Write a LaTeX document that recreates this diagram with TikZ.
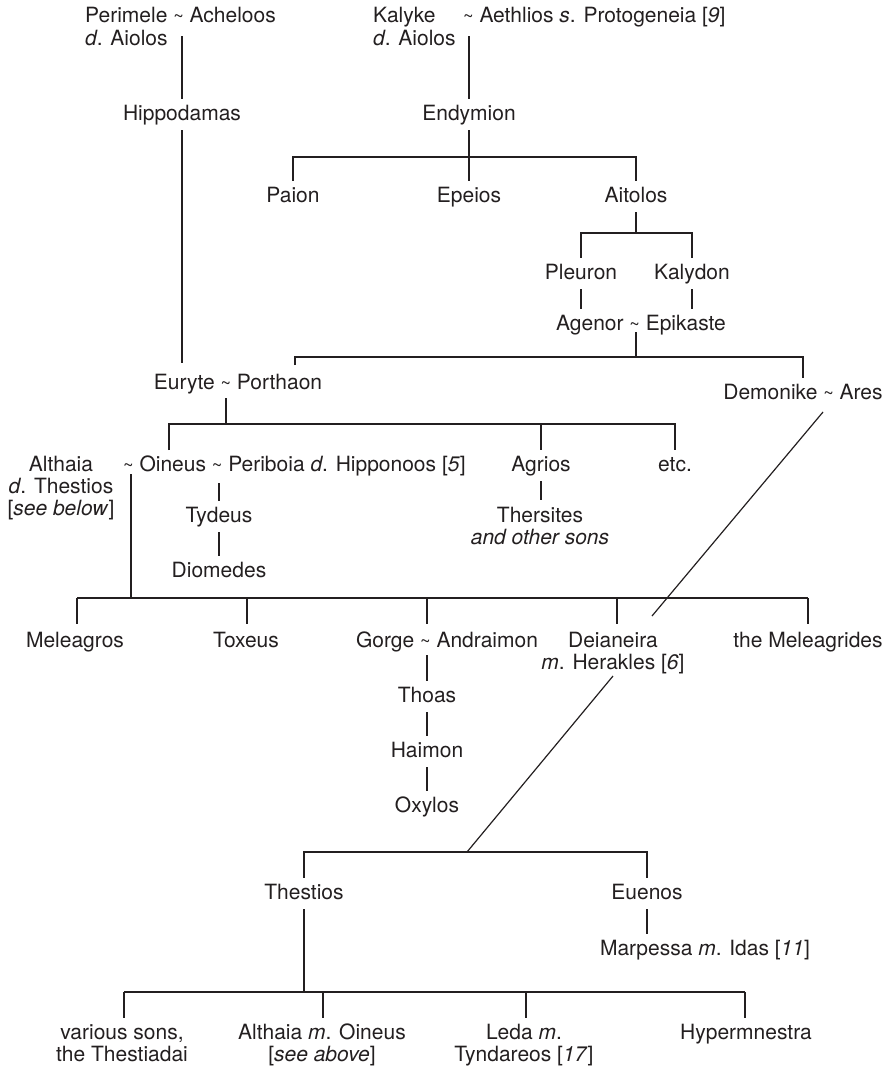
\documentclass[tikz,border=0pt]{standalone}
\usepackage{fontspec}
\setmainfont{TeX Gyre Heros}
\definecolor{ink}{HTML}{231F20}
\newcommand{\tld}{{\fontsize{18}{18}\selectfont\char"7E}}
\begin{document}
\begin{tikzpicture}[x=1pt,y=-1pt,
  every node/.style={font=\fontsize{21}{22}\selectfont, text=ink, inner sep=0pt},
  one/.style={text height=15pt, text depth=4pt, inner ysep=6pt, anchor=base},
  two/.style={align=center, anchor=base},
  ln/.style={draw=ink, line width=1.2pt}]
\useasboundingbox (0,0) rectangle (891,1068);

% ---- nodes (multi-line nodes are anchored at the baseline of their last line) ----
\node[two, align=left, anchor=base west] (peri) at (85,45) {Perimele \tld{} Acheloos\\\textit{d}. Aiolos};
\node[two, align=left, anchor=base west] (kalyke) at (373,45) {Kalyke\\\textit{d}. Aiolos};
\node[one, anchor=base west] (aeth) at (463,23) {\tld{} Aethlios \textit{s}. Protogeneia [\textit{9}]};
\node[one] (hippo) at (182,120) {Hippodamas};
\node[one] (endy) at (469,120) {Endymion};
\node[one] (paion) at (293,202) {Paion};
\node[one] (epeios) at (469,202) {Epeios};
\node[one] (aitolos) at (636,202) {Aitolos};
\node[one] (pleuron) at (581,279) {Pleuron};
\node[one] (kalydon) at (692,279) {Kalydon};
\node[one] (agenor) at (641,330) {Agenor \tld{} Epikaste};
\node[one] (euryte) at (238,389) {Euryte \tld{} Porthaon};
\node[one] (demonike) at (803,399) {Demonike \tld{} Ares};
\node[two] (althaia) at (61,515) {Althaia\\\textit{d}. Thestios\\{[}\textit{see below}]};
\node[one, anchor=base west] (oineus) at (123,471) {\tld{} Oineus \tld{} Periboia \textit{d}. Hipponoos [\textit{5}]};
\node[one] (agrios) at (541,471) {Agrios};
\node[one] (etc) at (675,471) {etc.};
\node[one] (tydeus) at (219,522) {Tydeus};
\node[one] (diomedes) at (219,577) {Diomedes};
\node[two] (thersites) at (540,544) {Thersites\\\textit{and other sons}};
\node[one] (meleagros) at (75,647) {Meleagros};
\node[one] (toxeus) at (246,647) {Toxeus};
\node[one] (gorge) at (447,647) {Gorge \tld{} Andraimon};
\node[two] (deianeira) at (613,669) {Deianeira\\\textit{m}. Herakles [\textit{6}]};
\node[one] (melides) at (808,647) {the Meleagrides};
\node[one] (thoas) at (427,702) {Thoas};
\node[one] (haimon) at (427,757) {Haimon};
\node[one] (oxylos) at (427,812) {Oxylos};
\node[one] (thestios) at (304,899) {Thestios};
\node[one] (euenos) at (647,899) {Euenos};
\node[one] (marpessa) at (705,955) {Marpessa \textit{m}. Idas [\textit{11}]};
\node[two] (various) at (122,1061) {various sons,\\the Thestiadai};
\node[two] (althaiab) at (322,1061) {Althaia \textit{m}. Oineus\\{[}\textit{see above}]};
\node[two] (leda) at (524,1061) {Leda \textit{m}.\\Tyndareos [\textit{17}]};
\node[one] (hyper) at (746,1039) {Hypermnestra};

% ---- coordinates ----
\coordinate (periL) at (182,36);
\coordinate (kalL) at (469,36);
\coordinate (eurTop) at (182,363);
\coordinate (b1l) at (293,157);
\coordinate (b1r) at (636,157);
\coordinate (b2) at (636,233);
\coordinate (b2l) at (581,233);
\coordinate (b2r) at (692,233);
\coordinate (agTil) at (636,332);
\coordinate (b3) at (636,357);
\coordinate (b3l) at (295,357);
\coordinate (b3r) at (803,357);
\coordinate (b3lt) at (295,365);
\coordinate (eurB) at (226,398);
\coordinate (b4) at (226,424);
\coordinate (b4l) at (169,424);
\coordinate (b4r) at (675,424);
\coordinate (oinTop) at (169,450);
\coordinate (oinB) at (131,474);
\coordinate (b5) at (131,598);
\coordinate (b5l) at (77,598);
\coordinate (b5r) at (808,598);
\coordinate (tydT) at (219,483);
\coordinate (thersT) at (541,500);
\coordinate (dem1) at (823,412);
\coordinate (dem2) at (652,616);
\coordinate (gorB) at (427,655);
\coordinate (deiB) at (613,676);
\coordinate (b6) at (467,852);
\coordinate (b6l) at (304,852);
\coordinate (b6r) at (647,852);
\coordinate (b7) at (304,992);
\coordinate (b7l) at (124,992);
\coordinate (b7r) at (745,992);

% ---- connectors ----
\draw[ln] (periL) -- (hippo.north);
\draw[ln] (hippo.south) -- (eurTop);
\draw[ln] (kalL) -- (endy.north);
\draw[ln] (endy.south) -- (epeios.north);
\draw[ln] (paion.north) -- (b1l) -- (b1r) -- (aitolos.north);
\draw[ln] (aitolos.south) -- (b2);
\draw[ln] (pleuron.north) -- (b2l) -- (b2r) -- (kalydon.north);
\draw[ln] (pleuron.south) -- (pleuron.south |- agenor.north);
\draw[ln] (kalydon.south) -- (kalydon.south |- agenor.north);
\draw[ln] (agTil) -- (b3);
\draw[ln] (b3lt) -- (b3l) -- (b3r) -- (demonike.north);
\draw[ln] (eurB) -- (b4);
\draw[ln] (oinTop) -- (b4l) -- (b4r) -- (etc.north);
\draw[ln] (b4l -| agrios) -- (agrios.north);
\draw[ln] (agrios.south) -- (thersT);
\draw[ln] (tydT) -- (tydeus.north);
\draw[ln] (tydeus.south) -- (diomedes.north);
\draw[ln] (oinB) -- (b5);
\draw[ln] (b5l) -- (b5r);
\foreach \x in {77,247,427,617,808} \draw[ln] (\x,598) -- (\x,624);
\draw[ln] (dem1) -- (dem2);
\draw[ln] (gorB) -- (thoas.north);
\draw[ln] (thoas.south) -- (haimon.north);
\draw[ln] (haimon.south) -- (oxylos.north);
\draw[ln] (deiB) -- (b6);
\draw[ln] (thestios.north) -- (b6l) -- (b6r) -- (euenos.north);
\draw[ln] (thestios.south) -- (b7);
\draw[ln] (euenos.south) -- (euenos.south |- marpessa.north);
\draw[ln] (b7l) -- (b7r);
\foreach \x in {124,323,526,745} \draw[ln] (\x,992) -- (\x,1018);
\end{tikzpicture}
\end{document}
